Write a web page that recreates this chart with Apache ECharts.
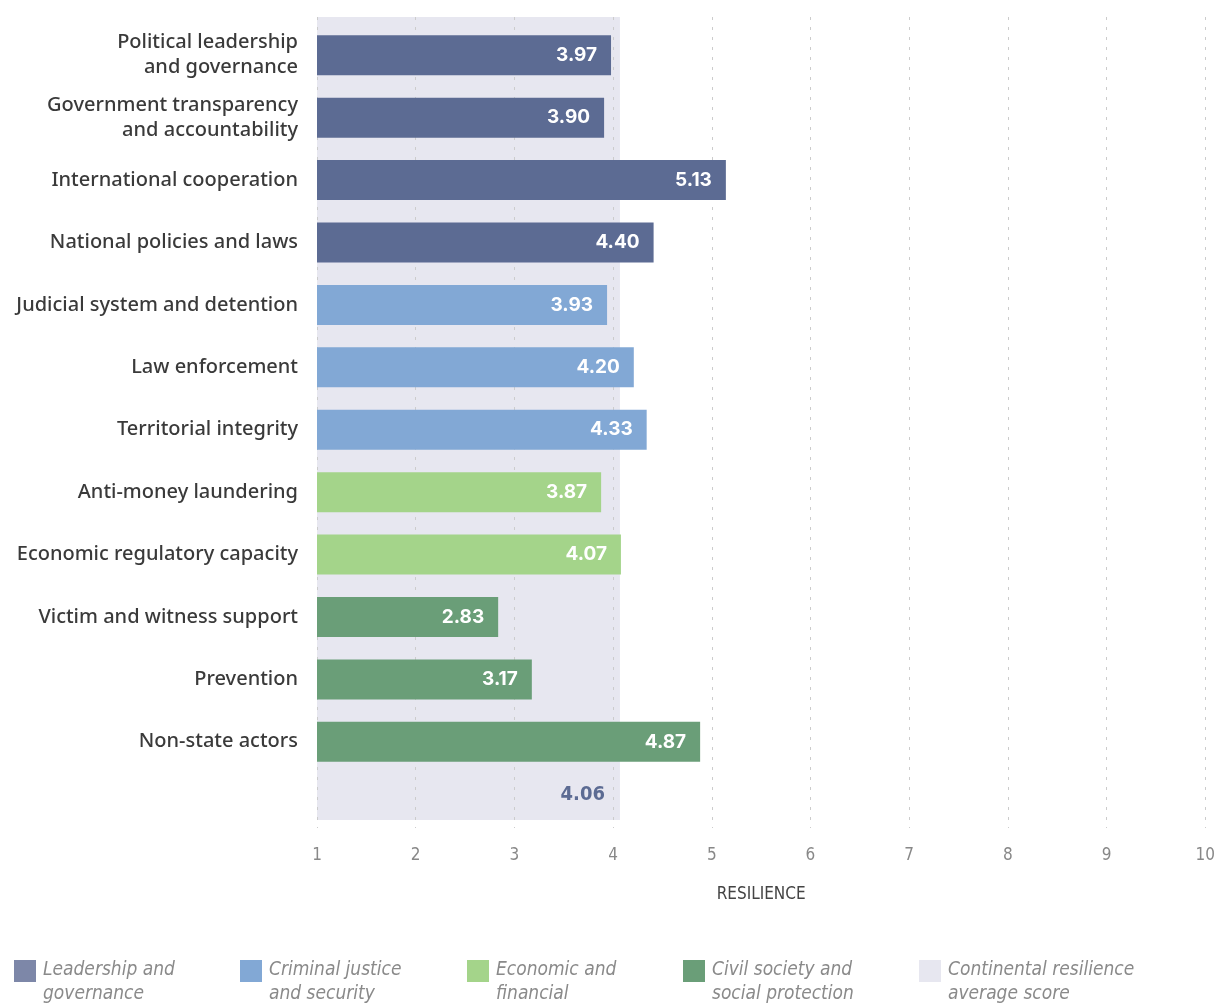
<!DOCTYPE html>
<html><head><meta charset="utf-8">
<script src="https://cdn.jsdelivr.net/npm/echarts@6/dist/echarts.min.js"></script>
<style>html,body{margin:0;padding:0;background:#fff}#c{width:1218px;height:1003px}</style>
</head><body><div id="c"></div>
<script>
const categories = [
  'Political leadership\nand governance',
  'Government transparency\nand accountability',
  'International cooperation',
  'National policies and laws',
  'Judicial system and detention',
  'Law enforcement',
  'Territorial integrity',
  'Anti-money laundering',
  'Economic regulatory capacity',
  'Victim and witness support',
  'Prevention',
  'Non-state actors'
];
const values = [3.97, 3.90, 5.13, 4.40, 3.93, 4.20, 4.33, 3.87, 4.07, 2.83, 3.17, 4.87];
const groupOf = [0, 0, 0, 0, 1, 1, 1, 2, 2, 3, 3, 3];
const groupNames = ['Leadership and\ngovernance', 'Criminal justice\nand security', 'Economic and\nfinancial', 'Civil society and\nsocial protection'];
const averageName = 'Continental resilience\naverage score';
const averageScore = 4.06;
const xTicks = [1, 2, 3, 4, 5, 6, 7, 8, 9, 10];

const groupColors = ['#5c6b93', '#82a8d5', '#a4d48a', '#6a9e78'];
const legendColors = ['#7d87a8', '#82a8d5', '#a4d48a', '#6a9e78'];
const bgColor = '#e7e7f0';
const condensed = '"DejaVu Sans Condensed", sans-serif';

const chart = echarts.init(document.getElementById('c'));

const barSeries = groupNames.map((g, gi) => ({
  name: g,
  type: 'bar',
  xAxisIndex: 1, yAxisIndex: 1,
  barWidth: 40,
  barGap: '-100%',
  z: 3,
  itemStyle: { color: groupColors[gi] },
  label: {
    show: true, position: 'insideRight', distance: 14,
    color: '#fff', fontFamily: 'Inter', fontWeight: 700, fontSize: 19,
    formatter: p => p.value.toFixed(2)
  },
  data: values.map((v, i) => groupOf[i] === gi ? v : '-')
}));

const legendLefts = [14, 240, 467, 683, 919];
const allNames = groupNames.concat([averageName]);
const legends = allNames.map((n, i) => ({
  data: [{ name: n, itemStyle: { color: i < 4 ? legendColors[i] : bgColor } }],
  left: legendLefts[i], top: 958, padding: 0,
  itemWidth: 22, itemHeight: 44, itemGap: 0,
  icon: 'path://M0,0h22v22h-22z M0,43.99h0.01v0.01h-0.01z', selectedMode: false,
  textStyle: {
    fontFamily: condensed,
    fontStyle: 'italic', fontSize: 19, color: '#8a8a8a', lineHeight: 24,
    padding: [0, 0, 0, 2]
  }
}));

chart.setOption({
  animation: false,
  legend: legends,
  grid: [
    { left: 317, right: 10, top: 17, bottom: 175 },
    { left: 317, right: 10, top: 24, bottom: 230 },
    { left: 317, right: 10, top: 17, bottom: 183 }
  ],
  xAxis: [
    {
      gridIndex: 0, type: 'value', min: xTicks[0], max: xTicks[xTicks.length - 1], interval: 1, z: 1,
      axisLine: { show: false }, axisTick: { show: false },
      axisLabel: { margin: 19, color: '#888', fontSize: 17, fontFamily: condensed, fontWeight: 300 },
      splitLine: { show: true, lineStyle: { color: '#cccccc', type: [3, 7], width: 1 } },
      name: 'RESILIENCE', nameLocation: 'middle', nameGap: 58,
      nameTextStyle: { color: '#444', fontSize: 17, fontFamily: condensed }
    },
    { gridIndex: 1, type: 'value', min: xTicks[0], max: xTicks[xTicks.length - 1], show: false, splitLine: { show: false } },
    { gridIndex: 2, type: 'value', min: xTicks[0], max: xTicks[xTicks.length - 1], show: false, splitLine: { show: false } }
  ],
  yAxis: [
    { gridIndex: 0, type: 'category', data: [''], show: false },
    {
      gridIndex: 1, type: 'category', data: categories, inverse: true,
      axisLine: { show: false }, axisTick: { show: false },
      axisLabel: { margin: 19, color: '#3a3a3a', fontSize: 20, lineHeight: 25,
        fontFamily: 'Noto Sans', fontWeight: 500 }
    },
    { gridIndex: 2, type: 'category', data: [''], show: false }
  ],
  series: [
    {
      name: averageName, type: 'bar', xAxisIndex: 2, yAxisIndex: 2,
      barWidth: '100%', z: 0, silent: true,
      itemStyle: { color: bgColor },
      label: {
        show: true, position: 'insideBottomRight', distance: 15,
        color: '#5c6b93', fontWeight: 700, fontSize: 20, fontFamily: condensed,
        formatter: p => p.value.toFixed(2)
      },
      data: [averageScore]
    }
  ].concat(barSeries)
});
</script></body></html>
